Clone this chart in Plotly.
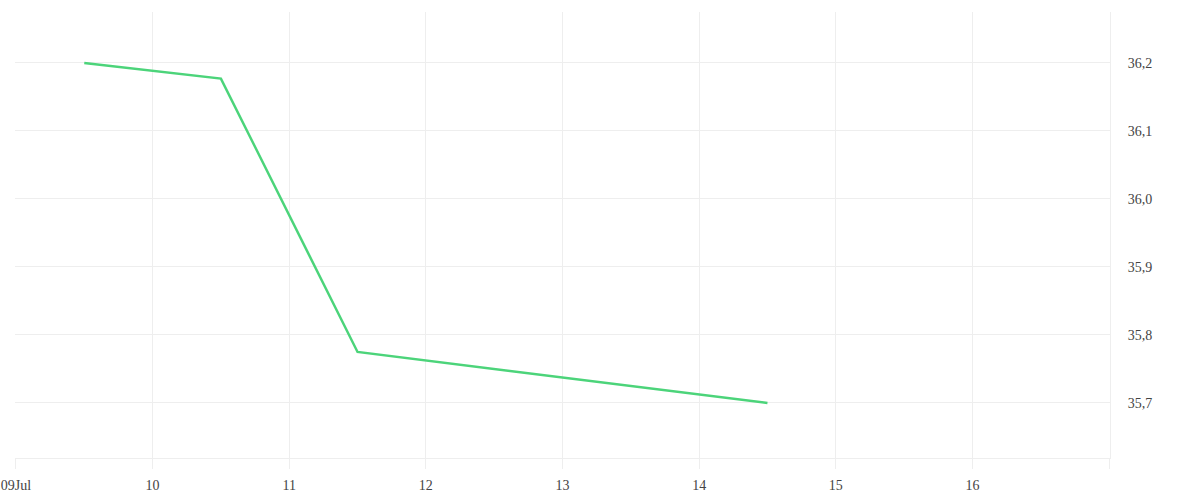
import plotly.graph_objects as go

# daily quotes (plotted at midday)
dates = ["2024-07-09 12:00", "2024-07-10 12:00", "2024-07-11 12:00", "2024-07-14 12:00"]
values = [36.20, 36.177, 35.775, 35.70]

tick_dates = ["2024-07-09", "2024-07-10", "2024-07-11", "2024-07-12", "2024-07-13",
              "2024-07-14", "2024-07-15", "2024-07-16", "2024-07-17"]
tick_labels = ["09Jul", "10", "11", "12", "13", "14", "15", "16", ""]

grid = "#eeeeee"

fig = go.Figure(go.Scatter(
    x=dates,
    y=values,
    mode="lines",
    line=dict(color="#4cd47a", width=2.5),
    hoverinfo="x+y",
))

fig.update_xaxes(
    range=["2024-07-08 23:50", "2024-07-17 00:10"],
    tickvals=tick_dates,
    ticktext=tick_labels,
    showgrid=True,
    gridcolor=grid,
    showline=True,
    linecolor=grid,
    ticks="outside",
    ticklen=10,
    tickcolor=grid,
    ticklabelstandoff=4,
    ticklabeloverflow="allow",
    zeroline=False,
    automargin=False,
)

fig.update_yaxes(
    side="right",
    range=[35.619, 36.275],
    dtick=0.1,
    tickformat=".1f",
    showgrid=True,
    gridcolor=grid,
    showline=True,
    linecolor=grid,
    ticks="",
    ticklabelstandoff=14,
    zeroline=False,
    automargin=False,
)

fig.update_layout(
    width=1200,
    height=500,
    margin=dict(l=15, r=90, t=12, b=42),
    separators=",.",
    plot_bgcolor="white",
    paper_bgcolor="white",
    showlegend=False,
    font=dict(family="Liberation Serif", size=14, color="#444444"),
)

# drop the default page margin so the chart sits at the window's corner
fig.write_html(
    "out.html",
    config={"displayModeBar": False},
    post_script="document.body.style.margin = '0';",
)
